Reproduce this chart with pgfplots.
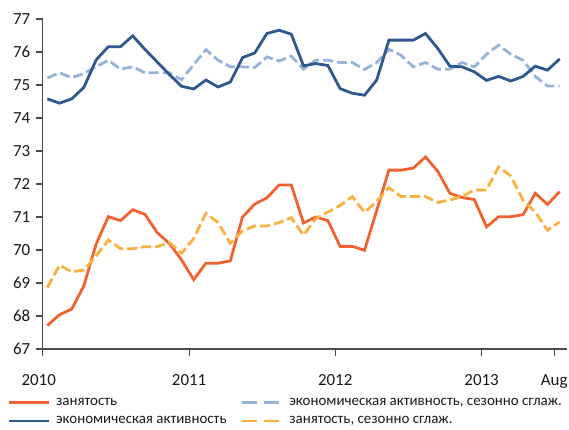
\documentclass[border=0pt]{standalone}
\usepackage{fontspec}
\setmainfont{Carlito}
\usepackage{pgfplots}
\pgfplotsset{compat=1.18}
\definecolor{cOr}{RGB}{240,99,48}
\definecolor{cDb}{RGB}{46,88,142}
\definecolor{cLb}{RGB}{150,180,215}
\definecolor{cYe}{RGB}{252,176,62}
\pgfplotstableread{
i emp act actsa empsa
0 67.71 74.58 75.21 68.86
1 68.04 74.45 75.37 69.54
2 68.21 74.58 75.22 69.34
3 68.92 74.93 75.35 69.39
4 70.18 75.76 75.55 69.82
5 71.01 76.16 75.75 70.30
6 70.89 76.16 75.48 70.04
7 71.22 76.49 75.55 70.04
8 71.08 76.08 75.37 70.10
9 70.53 75.70 75.37 70.10
10 70.20 75.32 75.37 70.23
11 69.70 74.96 75.16 69.90
12 69.10 74.88 75.62 70.35
13 69.60 75.15 76.07 71.11
14 69.60 74.94 75.75 70.83
15 69.67 75.09 75.55 70.20
16 71.00 75.83 75.55 70.58
17 71.39 75.97 75.53 70.73
18 71.58 76.56 75.85 70.73
19 71.97 76.66 75.73 70.83
20 71.97 76.54 75.87 70.98
21 70.82 75.58 75.48 70.45
22 71.00 75.65 75.75 70.95
23 70.89 75.59 75.75 71.15
24 70.11 74.89 75.68 71.35
25 70.11 74.75 75.68 71.62
26 69.99 74.69 75.47 71.14
27 71.20 75.15 75.68 71.47
28 72.42 76.36 76.08 71.89
29 72.42 76.36 75.90 71.62
30 72.48 76.36 75.55 71.62
31 72.82 76.56 75.68 71.62
32 72.39 76.11 75.48 71.44
33 71.72 75.57 75.48 71.52
34 71.59 75.55 75.68 71.62
35 71.53 75.40 75.55 71.82
36 70.70 75.14 75.93 71.82
37 71.01 75.26 76.21 72.52
38 71.01 75.12 75.93 72.24
39 71.07 75.26 75.75 71.50
40 71.72 75.57 75.26 71.15
41 71.38 75.45 74.97 70.60
42 71.77 75.79 74.97 70.85
}\datatable
\begin{document}
\begin{tikzpicture}
\path[use as bounding box] (0,0) rectangle (569bp,430bp);
\begin{axis}[
  at={(42.7bp,81bp)}, anchor=south west,
  scale only axis, width=524.3bp, height=330bp,
  xmin=-0.38, xmax=42.6, ymin=67, ymax=77,
  axis lines*=left,
  axis line style={black!70, line width=1.1bp},
  tick style={black!70, line width=1.1bp},
  tick align=outside, major tick length=7bp,
  ytick={67,68,...,77},
  xtick={-0.38,11.62,23.6,35.6,41.55},
  xticklabels={{\hspace*{-8bp}\raisebox{-4bp}{2010}},2011,2012,2013,Aug},
  /pgf/number format/assume math mode=true,
  ticklabel style={font=\fontsize{17}{20}\selectfont, text=black!90},
  xticklabel style={yshift=-15bp},
  yticklabel style={xshift=-2bp},
  legend columns=2,
  legend cell align=left,
  legend image code/.code={\draw[#1] (0bp,0bp) -- (40bp,0bp);},
  legend style={at={(axis description cs:-0.068,-0.19)}, anchor=west,
    draw=none, fill=none, inner sep=0pt,
    font=\fontsize{15}{17}\selectfont, text=black!90,
    row sep=6bp,
    nodes={inner xsep=6bp},
    /tikz/every even column/.append style={column sep=8bp}},
]
\addplot[cOr, line width=2.8bp] table[x=i,y=emp]{\datatable};
\addlegendentry{занятость}
\addplot[cLb, line width=2.8bp, dash pattern=on 10bp off 4bp,
  legend image post style={dash pattern=on 15bp off 7bp}] table[x=i,y=actsa]{\datatable};
\addlegendentry{экономическая активность, сезонно сглаж.}
\addplot[cDb, line width=2.8bp] table[x=i,y=act]{\datatable};
\addlegendentry{экономическая активность}
\addplot[cYe, line width=2.8bp, dash pattern=on 10bp off 4bp,
  legend image post style={dash pattern=on 15bp off 7bp}] table[x=i,y=empsa]{\datatable};
\addlegendentry{занятость, сезонно сглаж.}
\end{axis}
\end{tikzpicture}
\end{document}
